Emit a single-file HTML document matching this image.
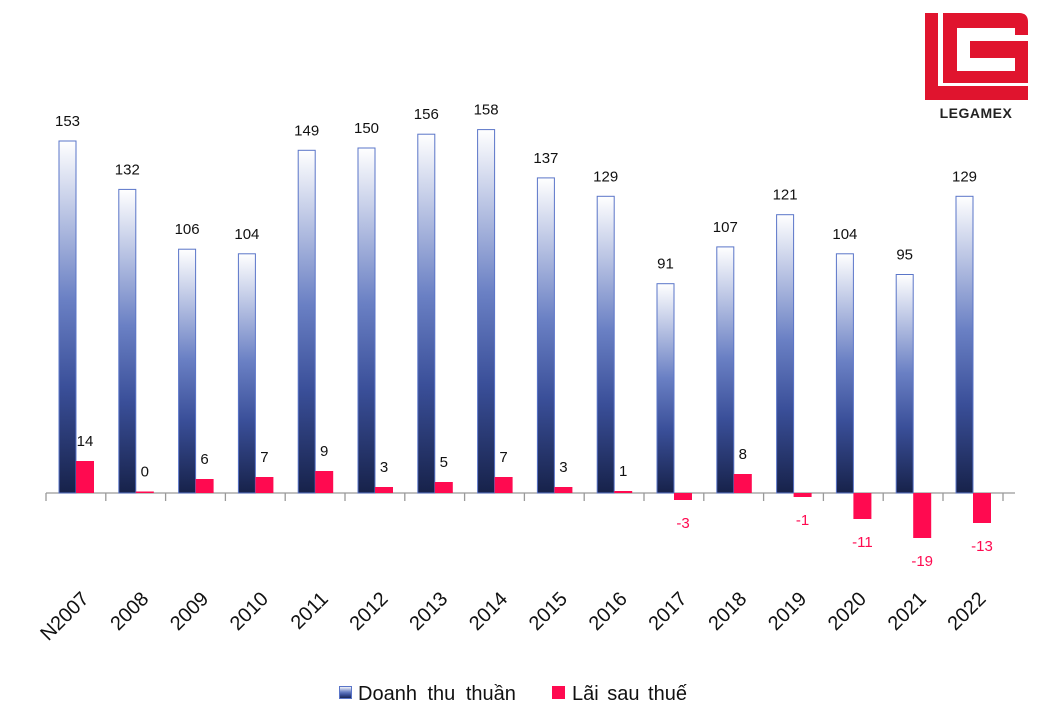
<!DOCTYPE html>
<html><head><meta charset="utf-8"><style>body{margin:0;background:#fff}svg{display:block}text{font-family:"Liberation Sans",sans-serif}</style></head>
<body>
<svg width="1052" height="720" viewBox="0 0 1052 720">
<defs>
<linearGradient id="g" x1="0" y1="0" x2="0" y2="1">
<stop offset="0" stop-color="#ffffff"/><stop offset="0.45" stop-color="#6a80c4"/><stop offset="0.7" stop-color="#3a4f99"/><stop offset="1" stop-color="#17224a"/></linearGradient>
</defs>
<!-- logo -->
<rect x="925" y="13" width="13" height="87" fill="#e0142e"/>
<rect x="925" y="86" width="103" height="14" fill="#e0142e"/>
<path d="M943 13 H1019 Q1028 13 1028 22 V83 H943 Z" fill="#e0142e"/>
<rect x="957" y="28" width="58" height="43" fill="#fff"/>
<rect x="1014" y="35" width="15" height="6" fill="#fff"/>
<rect x="970" y="41" width="58" height="17" fill="#e0142e"/>
<text x="976" y="118" font-size="14" font-weight="bold" text-anchor="middle" fill="#222" letter-spacing="0.5">LEGAMEX</text>
<!-- axis -->
<g stroke="#999" stroke-width="1.3"><line x1="46" y1="493" x2="1015" y2="493"/>
<line x1="46" y1="493" x2="46" y2="501"/><line x1="105.8" y1="493" x2="105.8" y2="501"/><line x1="165.6" y1="493" x2="165.6" y2="501"/><line x1="225.4" y1="493" x2="225.4" y2="501"/><line x1="285.2" y1="493" x2="285.2" y2="501"/><line x1="345" y1="493" x2="345" y2="501"/><line x1="404.8" y1="493" x2="404.8" y2="501"/><line x1="464.6" y1="493" x2="464.6" y2="501"/><line x1="524.4" y1="493" x2="524.4" y2="501"/><line x1="584.2" y1="493" x2="584.2" y2="501"/><line x1="644" y1="493" x2="644" y2="501"/><line x1="703.8" y1="493" x2="703.8" y2="501"/><line x1="763.6" y1="493" x2="763.6" y2="501"/><line x1="823.4" y1="493" x2="823.4" y2="501"/><line x1="883.2" y1="493" x2="883.2" y2="501"/><line x1="943" y1="493" x2="943" y2="501"/><line x1="1003" y1="493" x2="1003" y2="501"/></g>
<!-- blue bars -->
<g fill="url(#g)" stroke="#5a75c8" stroke-width="1">
<rect x="59" y="141" width="17" height="352"/>
<rect x="118.8" y="189.4" width="17" height="303.6"/>
<rect x="178.6" y="249.2" width="17" height="243.8"/>
<rect x="238.4" y="253.8" width="17" height="239.2"/>
<rect x="298.2" y="150.3" width="17" height="342.7"/>
<rect x="358" y="148" width="17" height="345"/>
<rect x="417.8" y="134.2" width="17" height="358.8"/>
<rect x="477.6" y="129.6" width="17" height="363.4"/>
<rect x="537.4" y="177.9" width="17" height="315.1"/>
<rect x="597.2" y="196.3" width="17" height="296.7"/>
<rect x="657" y="283.7" width="17" height="209.3"/>
<rect x="716.8" y="246.9" width="17" height="246.1"/>
<rect x="776.6" y="214.7" width="17" height="278.3"/>
<rect x="836.4" y="253.8" width="17" height="239.2"/>
<rect x="896.2" y="274.5" width="17" height="218.5"/>
<rect x="956" y="196.3" width="17" height="296.7"/>
</g>
<!-- red bars -->
<g fill="#ff0a50">
<rect x="76" y="461" width="18" height="32"/>
<rect x="135.8" y="491.5" width="18" height="1.5"/>
<rect x="195.6" y="479" width="18" height="14"/>
<rect x="255.4" y="477" width="18" height="16"/>
<rect x="315.2" y="471" width="18" height="22"/>
<rect x="375" y="487" width="18" height="6"/>
<rect x="434.8" y="482" width="18" height="11"/>
<rect x="494.6" y="477" width="18" height="16"/>
<rect x="554.4" y="487" width="18" height="6"/>
<rect x="614.2" y="491" width="18" height="2"/>
<rect x="674" y="493" width="18" height="7"/>
<rect x="733.8" y="474" width="18" height="19"/>
<rect x="793.6" y="493" width="18" height="4"/>
<rect x="853.4" y="493" width="18" height="26"/>
<rect x="913.2" y="493" width="18" height="45"/>
<rect x="973" y="493" width="18" height="30"/>
</g>
<!-- labels -->
<g font-size="15" fill="#111" text-anchor="middle">
<text x="67.5" y="126">153</text><text x="127.3" y="174.4">132</text><text x="187.1" y="234.2">106</text><text x="246.9" y="238.8">104</text><text x="306.7" y="135.3">149</text><text x="366.5" y="133">150</text><text x="426.3" y="119.2">156</text><text x="486.1" y="114.6">158</text><text x="545.9" y="162.9">137</text><text x="605.7" y="181.3">129</text><text x="665.5" y="268.7">91</text><text x="725.3" y="231.9">107</text><text x="785.1" y="199.7">121</text><text x="844.9" y="238.8">104</text><text x="904.7" y="259.5">95</text><text x="964.5" y="181.3">129</text>
<text x="85" y="446">14</text><text x="144.8" y="476.5">0</text><text x="204.6" y="464">6</text><text x="264.4" y="462">7</text><text x="324.2" y="456">9</text><text x="384" y="472">3</text><text x="443.8" y="467">5</text><text x="503.6" y="462">7</text><text x="563.4" y="472">3</text><text x="623.2" y="476">1</text><text x="742.8" y="459">8</text>
</g>
<g font-size="15" fill="#ff0a50" text-anchor="middle">
<text x="683" y="528">-3</text><text x="802.6" y="525">-1</text><text x="862.4" y="547">-11</text><text x="922.2" y="566">-19</text><text x="982" y="551">-13</text>
</g>
<!-- x labels -->
<g font-size="20" fill="#111" text-anchor="end">
<text transform="translate(90,600) rotate(-45)">N2007</text>
<text transform="translate(149.8,600) rotate(-45)">2008</text>
<text transform="translate(209.6,600) rotate(-45)">2009</text>
<text transform="translate(269.4,600) rotate(-45)">2010</text>
<text transform="translate(329.2,600) rotate(-45)">2011</text>
<text transform="translate(389,600) rotate(-45)">2012</text>
<text transform="translate(448.8,600) rotate(-45)">2013</text>
<text transform="translate(508.6,600) rotate(-45)">2014</text>
<text transform="translate(568.4,600) rotate(-45)">2015</text>
<text transform="translate(628.2,600) rotate(-45)">2016</text>
<text transform="translate(688,600) rotate(-45)">2017</text>
<text transform="translate(747.8,600) rotate(-45)">2018</text>
<text transform="translate(807.6,600) rotate(-45)">2019</text>
<text transform="translate(867.4,600) rotate(-45)">2020</text>
<text transform="translate(927.2,600) rotate(-45)">2021</text>
<text transform="translate(987,600) rotate(-45)">2022</text>
</g>
<!-- legend -->
<rect x="339.5" y="686.5" width="12" height="12" fill="url(#g)" stroke="#5a75c8"/>
<text x="358" y="700" font-size="20" fill="#111" word-spacing="5">Doanh thu thuần</text>
<rect x="552" y="686" width="13" height="13" fill="#ff0a50"/>
<text x="572" y="700" font-size="20" fill="#111" word-spacing="3">Lãi sau thuế</text>
</svg>
</body></html>
